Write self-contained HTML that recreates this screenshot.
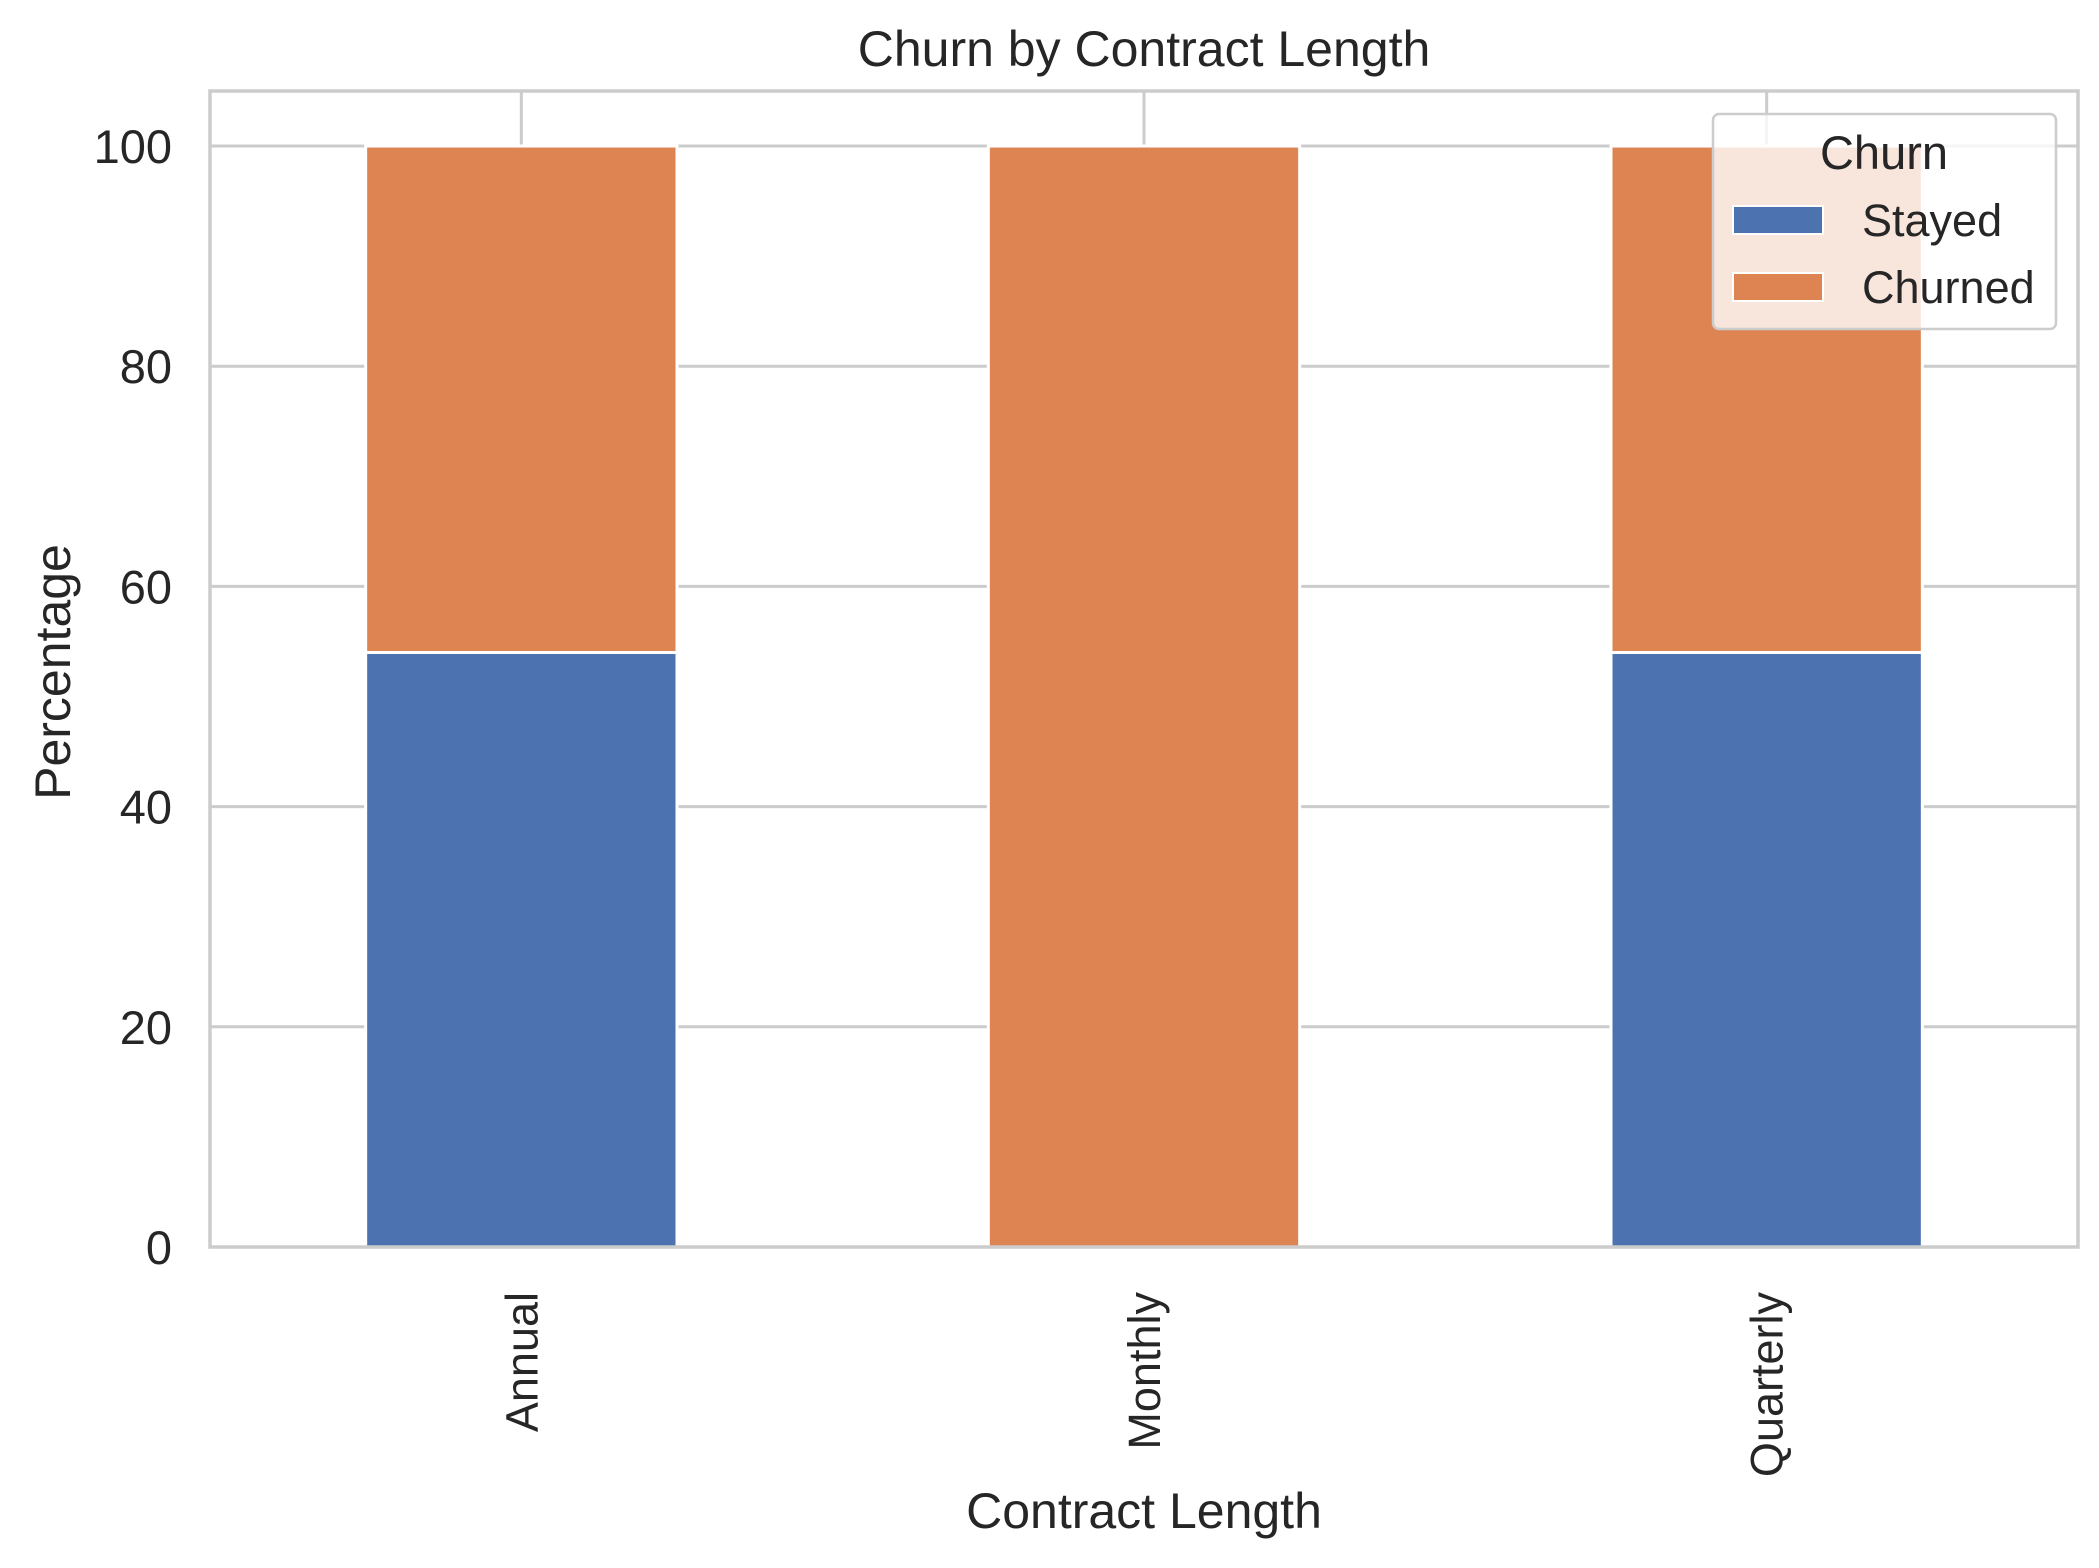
<!DOCTYPE html>
<html><head><meta charset="utf-8"><style>
html,body{margin:0;padding:0;background:#fff;}
svg{display:block;font-family:"Liberation Sans",Arial,sans-serif;}
</style></head><body>
<svg id="chart" width="2099" height="1568" viewBox="0 0 2099 1568" xmlns="http://www.w3.org/2000/svg">
<rect width="2099" height="1568" fill="#fff"/>
<g id="grid"></g>
<g id="bars"></g>
<rect x="210" y="91" width="1868" height="1156" fill="none" stroke="#cccccc" stroke-width="3.5"/>
<g id="axes"></g>
<text x="1144" y="66" text-anchor="middle" font-size="50" fill="#262626">Churn by Contract Length</text>
<text x="1144" y="1528" text-anchor="middle" font-size="50" fill="#262626">Contract Length</text>
<text transform="translate(70,672) rotate(-90)" text-anchor="middle" font-size="50" fill="#262626">Percentage</text>
<g>
<rect x="1713" y="114" width="343" height="215" rx="6" fill="#fff" fill-opacity="0.8" stroke="#cccccc" stroke-width="2.5"/>
<text x="1884" y="169" text-anchor="middle" font-size="47" fill="#262626">Churn</text>
<rect x="1733" y="206" width="90" height="28" fill="#4c72b0" stroke="#fff" stroke-width="2"/>
<text x="1862" y="236" font-size="45" fill="#262626">Stayed</text>
<rect x="1733" y="273" width="90" height="28" fill="#dd8452" stroke="#fff" stroke-width="2"/>
<text x="1862" y="303" font-size="45" fill="#262626">Churned</text>
</g>
</svg>
<script>
const categories = ["Annual", "Monthly", "Quarterly"];
const stayed = [54, 0, 54];
const churned = [46, 100, 46];
const yTicks = [0, 20, 40, 60, 80, 100];

const NS = "http://www.w3.org/2000/svg";
const X0 = 210, X1 = 2078, Y0 = 1247, Y1 = 91, YMIN = 0, YMAX = 105;
const xs = i => X0 + (i + 0.5) * (X1 - X0) / categories.length;
const ys = v => Y0 - (v - YMIN) / (YMAX - YMIN) * (Y0 - Y1);
const bw = 0.5 * (X1 - X0) / categories.length;
function mk(tag, attrs, parent) { const e = document.createElementNS(NS, tag); for (const k in attrs) e.setAttribute(k, attrs[k]); parent.appendChild(e); return e; }

const grid = document.getElementById("grid");
const bars = document.getElementById("bars");
const axes = document.getElementById("axes");

yTicks.forEach(t => {
  const l = mk("line", {x1: X0, x2: X1, y1: ys(t), y2: ys(t), stroke: "#cccccc", "stroke-width": 3}, grid);
  
  
  const tx = mk("text", {x: 172, y: ys(t) + 17, "text-anchor": "end", "font-size": 47, fill: "#262626"}, axes);
  tx.textContent = t;
  
  
});
categories.forEach((c, i) => {
  const l = mk("line", {x1: xs(i), x2: xs(i), y1: Y0, y2: Y1, stroke: "#cccccc", "stroke-width": 3}, grid);
  
  
  const b1 = mk("rect", {x: xs(i) - bw / 2, y: ys(stayed[i]), width: bw, height: ys(0) - ys(stayed[i]), fill: "#4c72b0", stroke: "#fff", "stroke-width": 3}, bars);
  
  
  const b2 = mk("rect", {x: xs(i) - bw / 2, y: ys(stayed[i] + churned[i]), width: bw, height: ys(stayed[i]) - ys(stayed[i] + churned[i]), fill: "#dd8452", stroke: "#fff", "stroke-width": 3}, bars);
  
  
  const tx = mk("text", {transform: `translate(${xs(i) + 16},1292) rotate(-90)`, "text-anchor": "end", "font-size": 45, fill: "#262626"}, axes);
  tx.textContent = c;
  
  
});
</script>
</body></html>
